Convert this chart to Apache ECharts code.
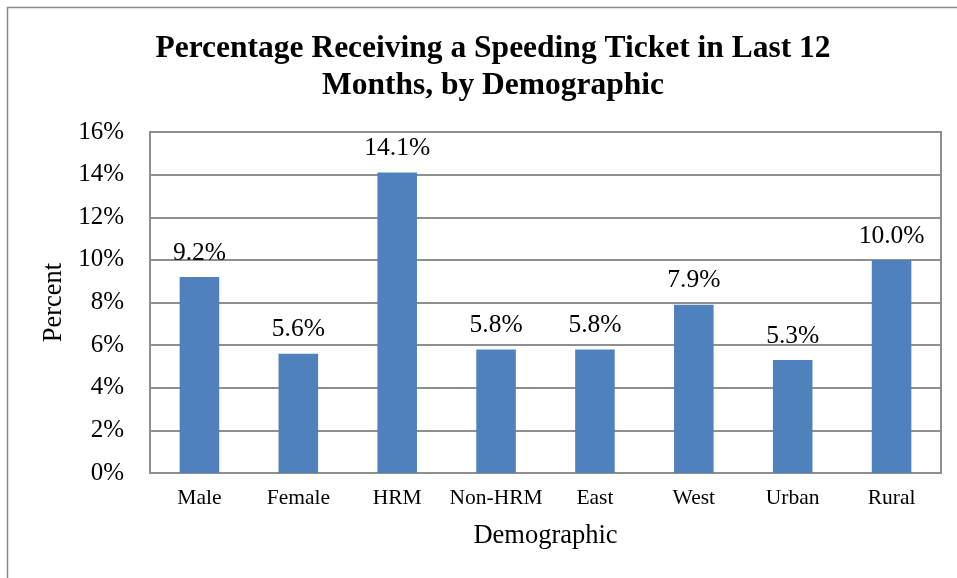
<!DOCTYPE html>
<html>
<head>
<meta charset="utf-8">
<script src="https://cdn.jsdelivr.net/npm/echarts@6/dist/echarts.min.js"></script>
<style>
  html, body { margin: 0; padding: 0; background: #fff; }
  #chart { width: 957px; height: 578px; }
</style>
</head>
<body>
<div id="chart"></div>
<script>
// Demographic groups and the share of each that got a speeding ticket (%)
const categories = ['Male', 'Female', 'HRM', 'Non-HRM', 'East', 'West', 'Urban', 'Rural'];
const percentages = [9.2, 5.6, 14.1, 5.8, 5.8, 7.9, 5.3, 10.0];
const yTicks = { min: 0, max: 16, interval: 2 };

const serif = '"Liberation Serif", "Times New Roman", serif';
const lineGray = '#8f8f8f';

const chart = echarts.init(document.getElementById('chart'), null, { renderer: 'canvas' });

chart.setOption({
  animation: false,
  backgroundColor: '#ffffff',
  title: {
    text: 'Percentage Receiving a Speeding Ticket in Last 12\nMonths, by Demographic',
    left: 488,
    top: 25,
    textAlign: 'center',
    textStyle: {
      fontFamily: serif,
      fontWeight: 'bold',
      fontSize: 31.5,
      lineHeight: 37,
      color: '#000'
    }
  },
  graphic: [{
    type: 'rect',
    left: 5,
    top: 5,
    shape: { width: 1000, height: 1000 },
    style: { fill: 'none', stroke: '#8a8a8a', lineWidth: 1.5 },
    silent: true,
    z: -1
  }],
  grid: {
    left: 150,
    right: 16,
    top: 132,
    bottom: 105,
    show: true,
    borderColor: lineGray,
    borderWidth: 2,
    backgroundColor: 'transparent'
  },
  xAxis: {
    type: 'category',
    data: categories,
    name: 'Demographic',
    nameLocation: 'middle',
    nameGap: 50,
    nameTextStyle: { fontFamily: serif, fontSize: 26.5, color: '#000' },
    axisLine: { lineStyle: { color: lineGray, width: 2 } },
    axisTick: { show: false },
    axisLabel: { interval: 0, fontFamily: serif, fontSize: 21.5, color: '#000', margin: 14 }
  },
  yAxis: {
    type: 'value',
    min: yTicks.min,
    max: yTicks.max,
    interval: yTicks.interval,
    name: 'Percent',
    nameLocation: 'middle',
    nameGap: 77,
    nameTextStyle: { fontFamily: serif, fontSize: 26.5, color: '#000' },
    axisLine: { show: true, lineStyle: { color: lineGray, width: 2 } },
    axisTick: { show: false },
    axisLabel: {
      fontFamily: serif, fontSize: 25, color: '#000', margin: 26,
      formatter: '{value}%'
    },
    splitLine: { show: true, lineStyle: { color: lineGray, width: 2 } }
  },
  series: [{
    type: 'bar',
    data: percentages,
    barWidth: '40%',
    itemStyle: { color: '#4f81bd' },
    label: {
      show: true,
      position: 'top',
      distance: 11,
      fontFamily: serif,
      fontSize: 25.5,
      color: '#000',
      formatter: p => p.value.toFixed(1) + '%'
    }
  }]
});
</script>
</body>
</html>
